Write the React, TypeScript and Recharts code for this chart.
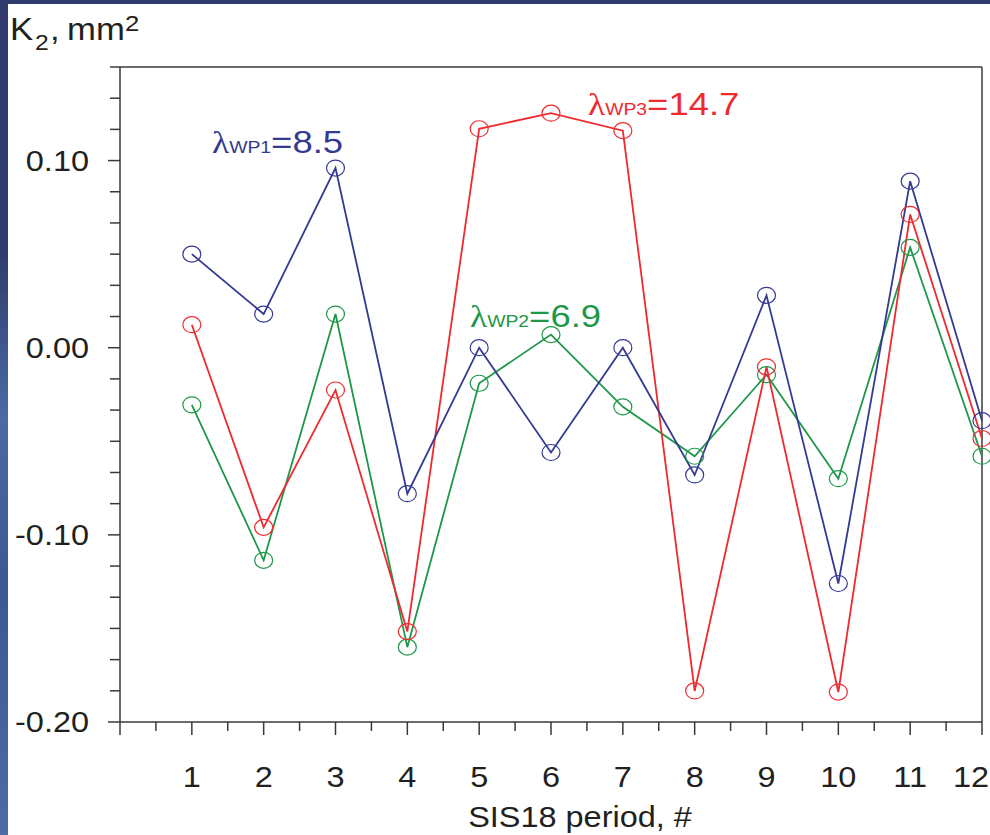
import React from "react";
import { LineChart, Line, XAxis, YAxis, ReferenceLine } from "recharts";

// K2 per SIS18 period
const periods = [1, 2, 3, 4, 5, 6, 7, 8, 9, 10, 11, 12];
const kWp1 = [0.050, 0.018, 0.096, -0.078, 0.0, -0.056, 0.0, -0.068, 0.028, -0.126, 0.089, -0.039];
const kWp2 = [-0.0305, -0.1136, 0.018, -0.16, -0.019, 0.007, -0.0316, -0.058, -0.0144, -0.070, 0.0536, -0.058];
const kWp3 = [0.0123, -0.096, -0.0226, -0.1517, 0.117, 0.1253, 0.116, -0.1834, -0.0102, -0.184, 0.0712, -0.0485];

const xTicks = [0, 0.5, 1, 1.5, 2, 2.5, 3, 3.5, 4, 4.5, 5, 5.5, 6, 6.5, 7, 7.5, 8, 8.5, 9, 9.5, 10, 10.5, 11, 11.5, 12];
const xLabels = ["1", "2", "3", "4", "5", "6", "7", "8", "9", "10", "11", "12"];
const yTicks = [
  -0.2, -0.18333, -0.16667, -0.15, -0.13333, -0.11667, -0.1, -0.08333, -0.06667, -0.05, -0.03333,
  -0.01667, 0, 0.01667, 0.03333, 0.05, 0.06667, 0.08333, 0.1, 0.11667, 0.13333, 0.15,
];
const yMajor = [-0.2, -0.1, 0, 0.1];
const yLabels = ["-0.20", "-0.10", "0.00", "0.10"];

const BLUE = "#343a92";
const RED = "#ee2a2f";
const GREEN = "#1e9848";
const AXIS = "#3a3a3a";
const TEXT = "#231f20";
const FONT = "'Liberation Sans', Arial, sans-serif";
const SX = 1.12; // the original is a bit stretched horizontally
const W = 982;
const H = 831;

const data = periods.map((p, i) => ({ period: p, wp1: kWp1[i], wp2: kWp2[i], wp3: kWp3[i] }));

const YTick = (props: any) => {
  const { x, y, payload } = props;
  const idx = yMajor.findIndex((v) => Math.abs(v - payload.value) < 1e-4);
  const major = idx >= 0;
  return (
    <g>
      <line x1={x - (major ? 12 : 10)} x2={x} y1={y} y2={y} stroke={AXIS} strokeWidth={1.5} />
      {major && (
        <text
          transform={`translate(${x - 31},${y + 10}) scale(${SX},1)`}
          textAnchor="end"
          fontFamily={FONT}
          fontSize={29}
          fill={TEXT}
        >
          {yLabels[idx]}
        </text>
      )}
    </g>
  );
};

const XTick = (props: any) => {
  const { x, y, payload } = props;
  const major = Number.isInteger(payload.value);
  const label = major && payload.value >= 1 ? xLabels[payload.value - 1] : null;
  // last label sits at the right edge; keep it inside the frame
  const atEdge = x + 20 > W;
  return (
    <g>
      <line x1={x} x2={x} y1={y} y2={y + (major ? 13 : 9)} stroke={AXIS} strokeWidth={1.5} />
      {label && (
        <text
          transform={`translate(${atEdge ? W - 1 : x},${y + 65}) scale(${SX},1)`}
          textAnchor={atEdge ? "end" : "middle"}
          fontFamily={FONT}
          fontSize={29}
          fill={TEXT}
        >
          {label}
        </text>
      )}
    </g>
  );
};

const ring = (color: string) => (props: any) => {
  const { cx, cy, index } = props;
  if (cx == null || cy == null) return <g key={index} />;
  return <ellipse key={index} cx={cx} cy={cy} rx={9} ry={8} fill="none" stroke={color} strokeWidth={1.2} />;
};

const Lambda = ({ x, y, sub, val, color }: { x: number; y: number; sub: string; val: string; color: string }) => (
  <text transform={`translate(${x},${y}) scale(1.14,1)`} fill={color} fontFamily={FONT}>
    <tspan fontFamily="'Liberation Serif', serif" fontSize={31}>λ</tspan>
    <tspan fontSize={17}>{sub}</tspan>
    <tspan fontSize={32}>{val}</tspan>
  </text>
);

export default function App() {
  return (
    <div
      style={{
        position: "absolute",
        left: 0,
        top: 0,
        width: 990,
        height: 835,
        overflow: "hidden",
        background: "linear-gradient(180deg, #2f3c6d 0%, #2f3c6d 30%, #4a6aa6 50%, #3c5892 70%, #4f6aa6 100%)",
      }}
    >
      <div style={{ position: "absolute", left: 8, top: 4, width: W, height: H, background: "#fff" }}>
        <LineChart width={W} height={H} data={data} margin={{ top: 63, right: 8, bottom: 0, left: 0 }}>
          <XAxis
            dataKey="period"
            type="number"
            domain={[0, 12]}
            ticks={xTicks}
            interval={0}
            height={113}
            tickSize={0}
            tickMargin={0}
            tick={<XTick />}
            axisLine={{ stroke: AXIS, strokeWidth: 1.5 }}
            tickLine={false}
          />
          <YAxis
            type="number"
            domain={[-0.2, 0.15]}
            ticks={yTicks}
            interval={0}
            width={112}
            tickSize={0}
            tickMargin={0}
            tick={<YTick />}
            axisLine={{ stroke: AXIS, strokeWidth: 1.5 }}
            tickLine={false}
          />
          <ReferenceLine y={0.15} stroke={AXIS} strokeWidth={1.5} />
          <ReferenceLine x={12} stroke={AXIS} strokeWidth={1.5} />
          <Line dataKey="wp2" stroke={GREEN} strokeWidth={1.8} dot={ring(GREEN)} isAnimationActive={false} />
          <Line dataKey="wp3" stroke={RED} strokeWidth={1.8} dot={ring(RED)} isAnimationActive={false} />
          <Line dataKey="wp1" stroke={BLUE} strokeWidth={1.8} dot={ring(BLUE)} isAnimationActive={false} />
        </LineChart>
        <svg
          width={W}
          height={H}
          style={{ position: "absolute", left: 0, top: 0, pointerEvents: "none", overflow: "visible" }}
        >
          <g fill={TEXT} fontFamily={FONT}>
            <text transform={`translate(2,36) scale(${SX},1)`} fontSize={31}>K</text>
            <text transform={`translate(27,46) scale(${SX},1)`} fontSize={22}>2</text>
            <text transform={`translate(42,36) scale(${SX},1)`} fontSize={31}>,</text>
            <text transform={`translate(59,36) scale(${SX},1)`} fontSize={31}>mm</text>
            <text transform={`translate(117,27) scale(${SX},1)`} fontSize={23}>2</text>
            <text transform={`translate(572,823) scale(${SX},1)`} fontSize={29} textAnchor="middle">
              SIS18 period, #
            </text>
          </g>
          <Lambda x={204} y={149} sub="WP1" val="=8.5" color={BLUE} />
          <Lambda x={580} y={111} sub="WP3" val="=14.7" color={RED} />
          <Lambda x={462} y={323} sub="WP2" val="=6.9" color={GREEN} />
        </svg>
      </div>
    </div>
  );
}
